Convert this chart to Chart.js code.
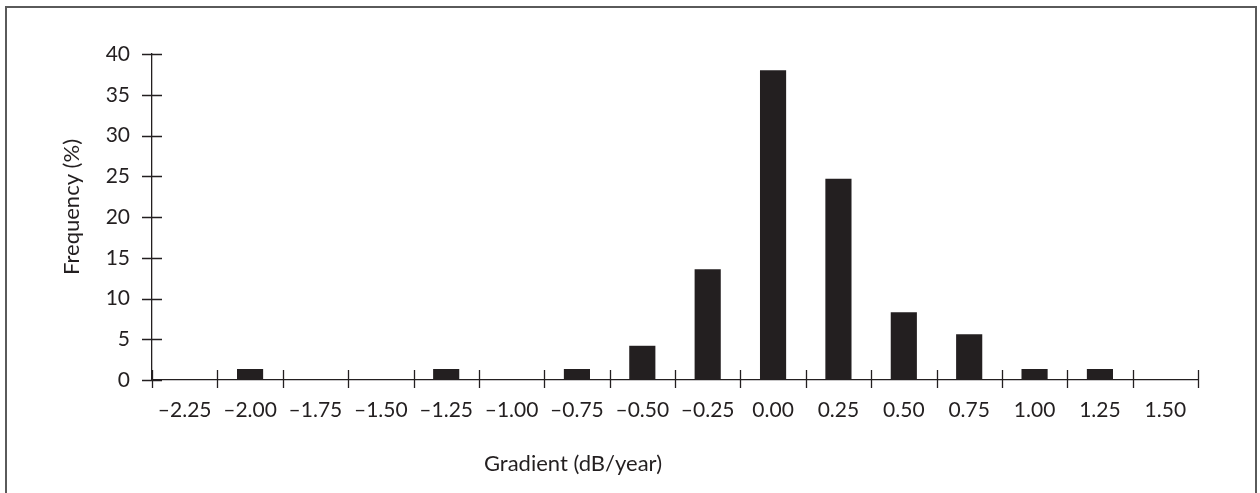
<!DOCTYPE html>
<html>
<head>
<meta charset="utf-8">
<script src="https://cdn.jsdelivr.net/npm/chart.js@4"></script>
<style>
  html, body { margin: 0; padding: 0; background: #fff; }
  #wrap { position: relative; width: 1260px; height: 493px; overflow: hidden; }
  #frame {
    position: absolute; left: 5px; top: 6px; width: 1248px; height: 500px;
    border: 2px solid #5a5a5a; border-bottom: none; pointer-events: none;
  }
</style>
</head>
<body>
<div id="wrap">
  <canvas id="myChart" width="1260" height="493"></canvas>
  <div id="frame"></div>
</div>
<script>
const categories = ['–2.25', '–2.00', '–1.75', '–1.50', '–1.25', '–1.00', '–0.75', '–0.50',
                    '–0.25', '0.00', '0.25', '0.50', '0.75', '1.00', '1.25', '1.50'];
const frequency = [0, 1.35, 0, 0, 1.35, 0, 1.35, 4.2, 13.6, 38, 24.7, 8.3, 5.6, 1.35, 1.35, 0];
const yTicks = [0, 5, 10, 15, 20, 25, 30, 35, 40];
const xTitle = 'Gradient (dB/year)';
const yTitle = 'Frequency (%)';

const ink = '#231f20';
const fontFamily = 'Lato, "Open Sans", sans-serif';

// tick marks that cross the axes, plus the axis titles
const crossTicks = {
    id: 'crossTicks',
    afterDraw(chart) {
        const ctx = chart.ctx;
        const x = chart.scales.x;
        const y = chart.scales.y;
        const area = chart.chartArea;
        ctx.save();
        ctx.strokeStyle = ink;
        ctx.lineWidth = 1.3;
        ctx.beginPath();
        for (let i = 0; i <= categories.length; i++) {
            const px = Math.round(x.getPixelForValue(i - 0.5)) + 0.5;
            ctx.moveTo(px, area.bottom - 10);
            ctx.lineTo(px, area.bottom + 8);
        }
        y.ticks.forEach(t => {
            const py = Math.round(y.getPixelForValue(t.value)) + 0.5;
            ctx.moveTo(area.left - 10, py);
            ctx.lineTo(area.left + 10, py);
        });
        ctx.stroke();

        ctx.fillStyle = ink;
        ctx.font = '22px ' + fontFamily;
        ctx.textAlign = 'center';
        ctx.textBaseline = 'middle';
        ctx.fillText(xTitle, area.left + 421, 464);
        ctx.translate(72, 207);
        ctx.rotate(-Math.PI / 2);
        ctx.fillText(yTitle, 0, 0);
        ctx.restore();
    }
};

new Chart(document.getElementById('myChart'), {
    type: 'bar',
    data: {
        labels: categories,
        datasets: [{
            label: 'Frequency',
            data: frequency,
            backgroundColor: ink,
            borderWidth: 0,
            barPercentage: 0.4,
            categoryPercentage: 1.0
        }]
    },
    options: {
        responsive: false,
        animation: false,
        layout: { padding: { left: 0, top: 54, right: 62, bottom: 0 } },
        plugins: { legend: { display: false }, tooltip: { enabled: false } },
        scales: {
            x: {
                offset: true,
                grid: { display: false, drawTicks: false, offset: true },
                border: { display: true, color: ink, width: 1.3 },
                ticks: {
                    color: ink, padding: 18, maxRotation: 0, autoSkip: false,
                    font: { family: fontFamily, size: 21 }
                },
                afterFit: (scale) => { scale.height = 113; }
            },
            y: {
                min: 0,
                max: 40,
                afterBuildTicks: (scale) => { scale.ticks = yTicks.map(v => ({ value: v })); },
                grid: { display: false, drawTicks: false },
                border: { display: true, color: ink, width: 1.3 },
                ticks: {
                    color: ink, padding: 22,
                    font: { family: fontFamily, size: 21 }
                },
                afterFit: (scale) => { scale.width = 152; }
            }
        }
    },
    plugins: [crossTicks]
});
</script>
</body>
</html>
